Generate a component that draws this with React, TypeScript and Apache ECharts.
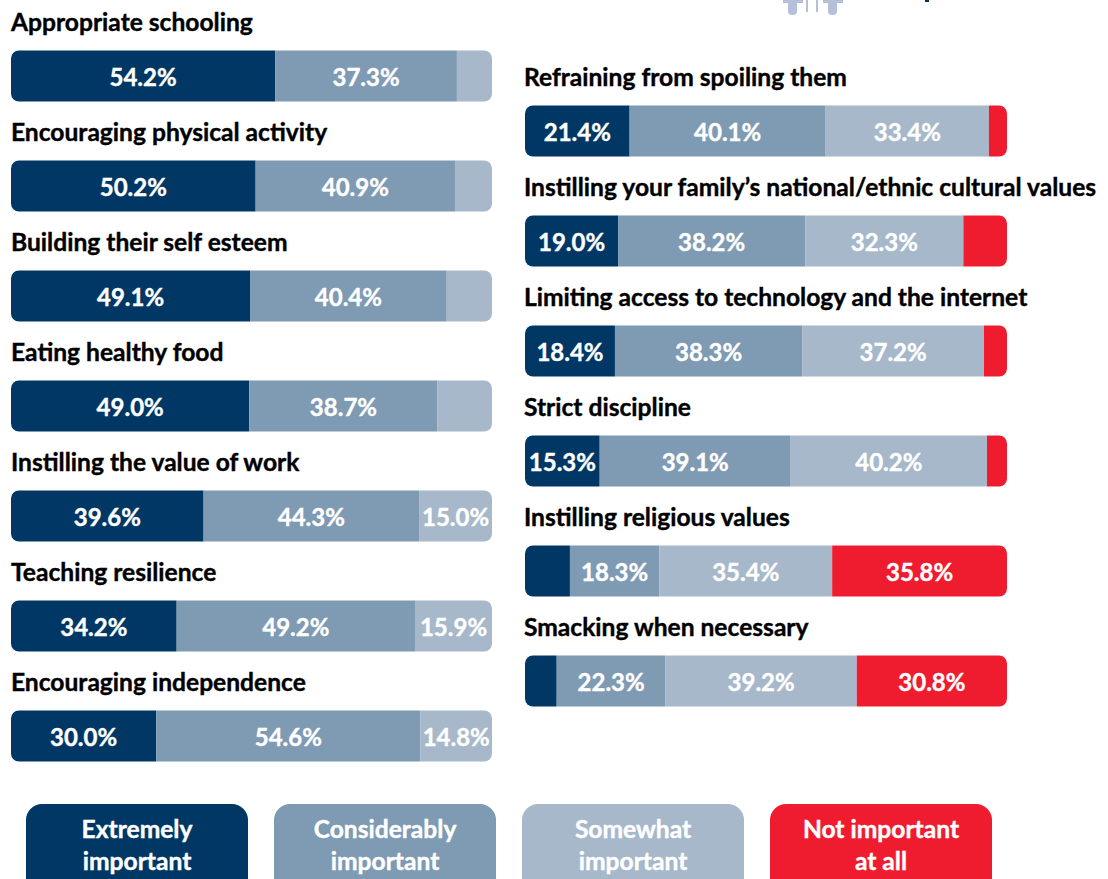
import React, { useEffect, useRef } from "react";
import * as echarts from "echarts";

const FONT = "Lato, 'Open Sans', sans-serif";

const leftCategories = [
  "Appropriate schooling",
  "Encouraging physical activity",
  "Building their self esteem",
  "Eating healthy food",
  "Instilling the value of work",
  "Teaching resilience",
  "Encouraging independence",
];
const leftExtremely = [54.2, 50.2, 49.1, 49.0, 39.6, 34.2, 30.0];
const leftConsiderably = [37.3, 40.9, 40.4, 38.7, 44.3, 49.2, 54.6];
const leftSomewhat = [7.2, 7.6, 9.3, 11.2, 15.0, 15.9, 14.8];

const rightCategories = [
  "Refraining from spoiling them",
  "Instilling your family\u2019s national/ethnic cultural values",
  "Limiting access to technology and the internet",
  "Strict discipline",
  "Instilling religious values",
  "Smacking when necessary",
];
const rightExtremely = [21.4, 19.0, 18.4, 15.3, 9.2, 6.5];
const rightConsiderably = [40.1, 38.2, 38.3, 39.1, 18.3, 22.3];
const rightSomewhat = [33.4, 32.3, 37.2, 40.2, 35.4, 39.2];
const rightNotAtAll = [3.7, 8.9, 4.7, 4.1, 35.8, 30.8];

const legendNames = ["Extremely\nimportant", "Considerably\nimportant", "Somewhat\nimportant", "Not important\nat all"];
const colors = ["#003764", "#7f9ab3", "#a6b8ca", "#ef1c2f"];
const LABEL_MIN = 12;

function buildSeries(columns: number[][], gridIndex: number) {
  const rowCount = columns[0].length;
  const totals = Array.from({ length: rowCount }, (_, r) => columns.reduce((s, c) => s + c[r], 0));
  return columns.map((col, ci) => ({
    type: "bar",
    stack: "g" + gridIndex,
    xAxisIndex: gridIndex,
    yAxisIndex: gridIndex,
    barWidth: 51,
    silent: true,
    data: col.map((v, r) => ({
      value: (v / totals[r]) * 100,
      itemStyle: {
        color: colors[ci],
        borderRadius:
          ci === 0 ? [8, 0, 0, 8] : ci === columns.length - 1 ? [0, 8, 8, 0] : 0,
      },
      label: {
        show: v >= LABEL_MIN,
        position: "inside",
        formatter: v.toFixed(1) + "%",
        color: "#ffffff",
        fontFamily: FONT,
        fontWeight: "bold",
        fontSize: 24,
        textBorderColor: "#ffffff",
        textBorderWidth: 0.4,
      },
    })),
  }));
}

function yAxis(categories: string[], gridIndex: number, lift: number, margin: number) {
  return {
    type: "category",
    gridIndex,
    inverse: true,
    data: categories,
    axisLine: { show: false },
    axisTick: { show: false },
    splitLine: { show: false },
    axisLabel: {
      show: true,
      interval: 0,
      inside: true,
      margin,
      align: "left",
      verticalAlign: "bottom",
      padding: [0, 0, lift, 0],
      color: "#000000",
      fontFamily: FONT,
      fontWeight: "bold",
      fontSize: 24.6,
      textBorderColor: "#000000",
      textBorderWidth: 0.4,
    },
  };
}

function xAxis(gridIndex: number) {
  return { type: "value", gridIndex, min: 0, max: 100, show: false };
}

const legendX = [26, 274, 522, 770];

function legendGraphics() {
  return legendNames.map((name, i) => ({
    type: "group",
    x: legendX[i],
    y: 804,
    children: [
      {
        type: "rect",
        shape: { x: 0, y: 0, width: 222, height: 95, r: 16 },
        style: { fill: colors[i] },
      },
      {
        type: "text",
        x: 111,
        y: 8,
        style: {
          text: name,
          fill: "#ffffff",
          font: `bold 24.6px ${FONT}`,
          textAlign: "center",
          textVerticalAlign: "top",
          lineHeight: 32,
          stroke: "#ffffff",
          lineWidth: 0.4,
        },
      },
    ],
  }));
}

const logoColor = "#b4c0da";
const logoRects = [
  [783, 0, 20, 3, logoColor],
  [788, 0, 9, 15, logoColor],
  [823, 0, 20, 3, logoColor],
  [828, 0, 9, 15, logoColor],
  [806, 0, 2, 12, logoColor],
  [816, 0, 2, 12, logoColor],
  [925, 0, 4, 2, "#003764"],
] as const;

function logoGraphics() {
  return logoRects.map(([x, y, width, height, fill]) => ({
    type: "rect",
    shape: { x, y, width, height, r: width > 5 && height > 5 ? [0, 0, 4, 4] : 0 },
    style: { fill },
  }));
}

export default function App() {
  const ref = useRef<HTMLDivElement>(null);
  useEffect(() => {
    const chart = echarts.init(ref.current!, null, { renderer: "svg" });
    chart.setOption({
      animation: false,
      backgroundColor: "#ffffff",
      grid: [
        { left: 11, top: 21, width: 481, height: 770, outerBoundsMode: "none" },
        { left: 525, top: 76, width: 482, height: 660, outerBoundsMode: "none" },
      ],
      xAxis: [xAxis(0), xAxis(1)],
      yAxis: [yAxis(leftCategories, 0, 42, 0), yAxis(rightCategories, 1, 42, -1)],
      series: [
        ...buildSeries([leftExtremely, leftConsiderably, leftSomewhat], 0),
        ...buildSeries([rightExtremely, rightConsiderably, rightSomewhat, rightNotAtAll], 1),
      ],
      graphic: [...legendGraphics(), ...logoGraphics()],
    });
    return () => chart.dispose();
  }, []);
  return (
    <div
      ref={ref}
      style={{ position: "fixed", left: 0, top: 0, width: 1108, height: 879 }}
    />
  );
}
